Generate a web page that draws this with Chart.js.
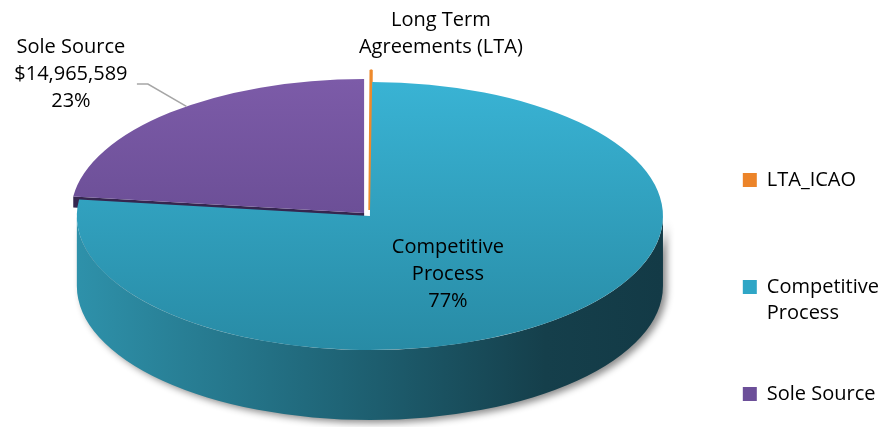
<!DOCTYPE html>
<html>
<head>
<meta charset="utf-8">
<script src="https://cdn.jsdelivr.net/npm/chart.js@4.4.1/dist/chart.umd.min.js"></script>
<style>
  html, body { margin: 0; padding: 0; background: #fff; }
  #wrap { width: 889px; height: 427px; }
</style>
</head>
<body>
<div id="wrap"><canvas id="myChart"></canvas></div>
<script>
// data
const labels = ["LTA_ICAO", "Competitive Process", "Sole Source"];
const amounts = [80000, 49900000, 14965589];
const legendLines = [["LTA_ICAO", "", "", ""], ["Competitive", "Process", "", ""], "Sole Source"];
const sliceLabels = [["Long Term", "Agreements (LTA)"], ["Competitive", "Process"], ["Sole Source"]];

// look
const FONT = "'Open Sans', sans-serif";
const RADIUS = 134;
const STRETCH = 2.187;
const DEPTH = 70;
const FACE_DEPTH = 11;
const topColors = [["#f59a40", "#e9801f"], ["#39b3d4", "#288ba5"], ["#7c5ba8", "#5c4386"]];
const legendColors = ["#ec8429", "#2fa6c6", "#6c4f99"];
const offsets = [24, 0, 16];

const total = amounts.reduce((a, b) => a + b, 0);

function topGradient(c) {
  const i = c.dataIndex;
  const chart = c.chart;
  const area = chart.chartArea;
  if (!area || i === undefined) return topColors[i || 0][0];
  const cy = (area.top + area.bottom) / 2;
  const g = chart.ctx.createLinearGradient(0, cy - RADIUS, 0, cy + RADIUS);
  g.addColorStop(0, topColors[i][0]);
  g.addColorStop(1, topColors[i][1]);
  return g;
}

// squash the pie into an ellipse and draw the walls under it
const pie3d = {
  id: "pie3d",
  beforeDatasetsDraw(chart) {
    const ctx = chart.ctx;
    const arcs = chart.getDatasetMeta(0).data;
    if (!arcs.length) return;
    const cx = arcs[0].x, cy = arcs[0].y;
    ctx.save();
    ctx.translate(cx, cy);
    ctx.scale(STRETCH, 1);
    ctx.translate(-cx, -cy);

    // radial face of the exploded sole source slice
    const sole = arcs[2];
    const so = (sole.options.offset || 0) / 4;
    const sm = (sole.startAngle + sole.endAngle) / 2;
    const sx = sole.x + Math.cos(sm) * so, sy = sole.y + Math.sin(sm) * so;
    const sa = sole.startAngle, sr = sole.outerRadius;
    ctx.beginPath();
    ctx.moveTo(sx, sy);
    ctx.lineTo(sx + Math.cos(sa) * sr, sy + Math.sin(sa) * sr);
    ctx.lineTo(sx + Math.cos(sa) * sr, sy + Math.sin(sa) * sr + FACE_DEPTH);
    ctx.lineTo(sx, sy + FACE_DEPTH);
    ctx.closePath();
    ctx.fillStyle = "#35264f";
    ctx.fill();

    // outer walls, front half only
    arcs.forEach((arc) => {
      const a0 = Math.max(arc.startAngle, 0), a1 = Math.min(arc.endAngle, Math.PI);
      if (a1 <= a0) return;
      const off = (arc.options.offset || 0) / 4;
      const mid = (arc.startAngle + arc.endAngle) / 2;
      const x = arc.x + Math.cos(mid) * off, y = arc.y + Math.sin(mid) * off;
      const r = arc.outerRadius;
      const g = ctx.createLinearGradient(x - r, 0, x + r, 0);
      g.addColorStop(0, "#2e91aa");
      g.addColorStop(0.45, "#1f6476");
      g.addColorStop(0.8, "#153f4b");
      g.addColorStop(1, "#133a46");
      ctx.save();
      ctx.shadowColor = "rgba(0,0,0,0.45)";
      ctx.shadowBlur = 7;
      ctx.shadowOffsetX = 4;
      ctx.shadowOffsetY = 3;
      ctx.beginPath();
      ctx.arc(x, y, r, a0, a1);
      ctx.arc(x, y + DEPTH, r, a1, a0, true);
      ctx.closePath();
      ctx.fillStyle = g;
      ctx.fill();
      ctx.restore();
    });
  },
  afterDatasetsDraw(chart) {
    if (chart.getDatasetMeta(0).data.length) chart.ctx.restore();
  }
};

// data labels
const sliceText = {
  id: "sliceText",
  afterDraw(chart) {
    const ctx = chart.ctx;
    const arcs = chart.getDatasetMeta(0).data;
    if (!arcs.length) return;
    const cx = arcs[0].x, cy = arcs[0].y;
    const pct = amounts.map(v => Math.round(v / total * 100) + "%");
    ctx.save();
    ctx.font = "20px " + FONT;
    ctx.fillStyle = "#000";
    ctx.textAlign = "center";
    ctx.textBaseline = "middle";

    // Sole Source, with leader line
    const sole = arcs[2];
    const off = sole.options.offset / 4;
    const mid = (sole.startAngle + sole.endAngle) / 2;
    const a = sole.startAngle + (sole.endAngle - sole.startAngle) * 0.55;
    const ex = cx + STRETCH * (Math.cos(mid) * off + Math.cos(a) * sole.outerRadius);
    const ey = cy + Math.sin(mid) * off + Math.sin(a) * sole.outerRadius;
    ctx.strokeStyle = "#a6a6a6";
    ctx.lineWidth = 1.5;
    ctx.beginPath();
    ctx.moveTo(cx - 233, cy - 132);
    ctx.lineTo(cx - 222, cy - 132);
    ctx.lineTo(ex, ey);
    ctx.stroke();
    const soleLines = [sliceLabels[2][0], "$" + amounts[2].toLocaleString("en-US"), pct[2]];
    soleLines.forEach((t, j) => ctx.fillText(t, cx - 299, cy - 169 + j * 27));

    // LTA
    sliceLabels[0].forEach((t, j) => ctx.fillText(t, cx + 71, cy - 196 + j * 27));

    // Competitive
    const comp = sliceLabels[1].concat([pct[1]]);
    comp.forEach((t, j) => ctx.fillText(t, cx + 78, cy + 31 + j * 27));
    ctx.restore();
  }
};

new Chart(document.getElementById("myChart"), {
  type: "pie",
  data: {
    labels: labels,
    datasets: [{
      data: amounts,
      backgroundColor: topGradient,
      borderColor: ["#ee8a2c", "#000", "#000"],
      borderWidth: [1.5, 0, 0],
      offset: offsets,
      radius: RADIUS,
      clip: false
    }]
  },
  options: {
    responsive: true,
    maintainAspectRatio: false,
    animation: false,
    layout: { padding: { left: 0, right: 0, top: 5, bottom: 0 } },
    plugins: {
      tooltip: { enabled: false },
      legend: {
        position: "right",
        align: "start",
        title: { display: true, text: "", padding: { top: 152, bottom: 0 }, font: { size: 10, lineHeight: 1 } },
        labels: {
          boxWidth: 14,
          boxHeight: 14,
          padding: 3,
          color: "#000",
          font: { family: FONT, size: 20, lineHeight: 1.3 },
          generateLabels: () => labels.map((t, i) => ({
            text: legendLines[i],
            fillStyle: legendColors[i],
            strokeStyle: legendColors[i],
            fontColor: "#000",
            lineWidth: 0,
            hidden: false,
            index: i
          }))
        }
      }
    }
  },
  plugins: [pie3d, sliceText]
});
</script>
</body>
</html>
